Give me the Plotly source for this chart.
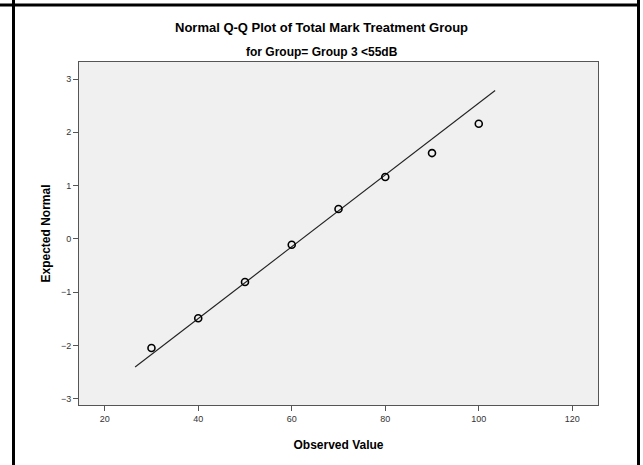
import numpy as np
import plotly.graph_objects as go

# Observed total marks and their expected normal scores
observed = [30, 40, 50, 60, 70, 80, 90, 100]
expected_normal = [-2.05, -1.49, -0.81, -0.11, 0.56, 1.16, 1.61, 2.16]

# Reference line parameters (sample mean / sd) and span
line_mean = 62.2
line_sd = 14.83
line_span = [26.5, 103.5]

x_ticks = [20, 40, 60, 80, 100, 120]
y_ticks = [-3, -2, -1, 0, 1, 2, 3]

W, H = 643, 465
ML, MR, MT, MB = 79, 45, 62, 60
PW, PH = W - ML - MR, H - MT - MB

FONT = "Liberation Sans, Arial, sans-serif"


def px_x(p):
    return (p - ML) / PW


def px_y(p):
    return (H - MB - p) / PH


line_x = np.array(line_span)
line_y = (line_x - line_mean) / line_sd

fig = go.Figure()
fig.add_trace(go.Scatter(
    x=line_x, y=line_y, mode="lines",
    line=dict(color="#222222", width=1.1),
    hoverinfo="skip", showlegend=False,
))
fig.add_trace(go.Scatter(
    x=observed, y=expected_normal, mode="markers",
    marker=dict(symbol="circle-open", size=7, color="black",
                line=dict(width=1.6, color="black")),
    showlegend=False,
))

# Outer frame lines
frame = dict(type="line", xref="paper", yref="paper",
             line=dict(color="black", width=3), layer="above")
shapes = [
    dict(frame, x0=px_x(0), x1=px_x(640), y0=px_y(5), y1=px_y(5)),
    dict(frame, x0=px_x(13.5), x1=px_x(13.5), y0=px_y(0), y1=px_y(H)),
    dict(frame, x0=px_x(638.5), x1=px_x(638.5), y0=px_y(0), y1=px_y(H)),
]

annotations = [
    dict(text="<b>Normal Q-Q Plot of Total Mark Treatment Group</b>",
         xref="paper", yref="paper", x=px_x(W / 2), y=px_y(28),
         xanchor="center", yanchor="middle", showarrow=False,
         font=dict(family=FONT, size=13, color="black")),
    dict(text="<b>for Group= Group 3 <55dB</b>",
         xref="paper", yref="paper", x=px_x(W / 2), y=px_y(52),
         xanchor="center", yanchor="middle", showarrow=False,
         font=dict(family=FONT, size=12, color="black")),
]

axis_common = dict(
    showgrid=False, zeroline=False,
    showline=True, linecolor="#555555", linewidth=1, mirror=True,
    ticks="outside", ticklen=5, tickwidth=1, tickcolor="#555555",
    tickfont=dict(family=FONT, size=9, color="#333333"),
)

fig.update_layout(
    width=W, height=H,
    margin=dict(l=ML, r=MR, t=MT, b=MB),
    paper_bgcolor="white", plot_bgcolor="#f0f0f0",
    xaxis=dict(axis_common, range=[14.5, 125.5], tickvals=x_ticks,
               title=dict(text="<b>Observed Value</b>", standoff=17,
                          font=dict(family=FONT, size=12, color="black"))),
    yaxis=dict(axis_common, range=[-3.12, 3.32], tickvals=y_ticks,
               title=dict(text="<b>Expected Normal</b>", standoff=7,
                          font=dict(family=FONT, size=12, color="black"))),
    shapes=shapes,
    annotations=annotations,
)

fig.write_html("out.html")
